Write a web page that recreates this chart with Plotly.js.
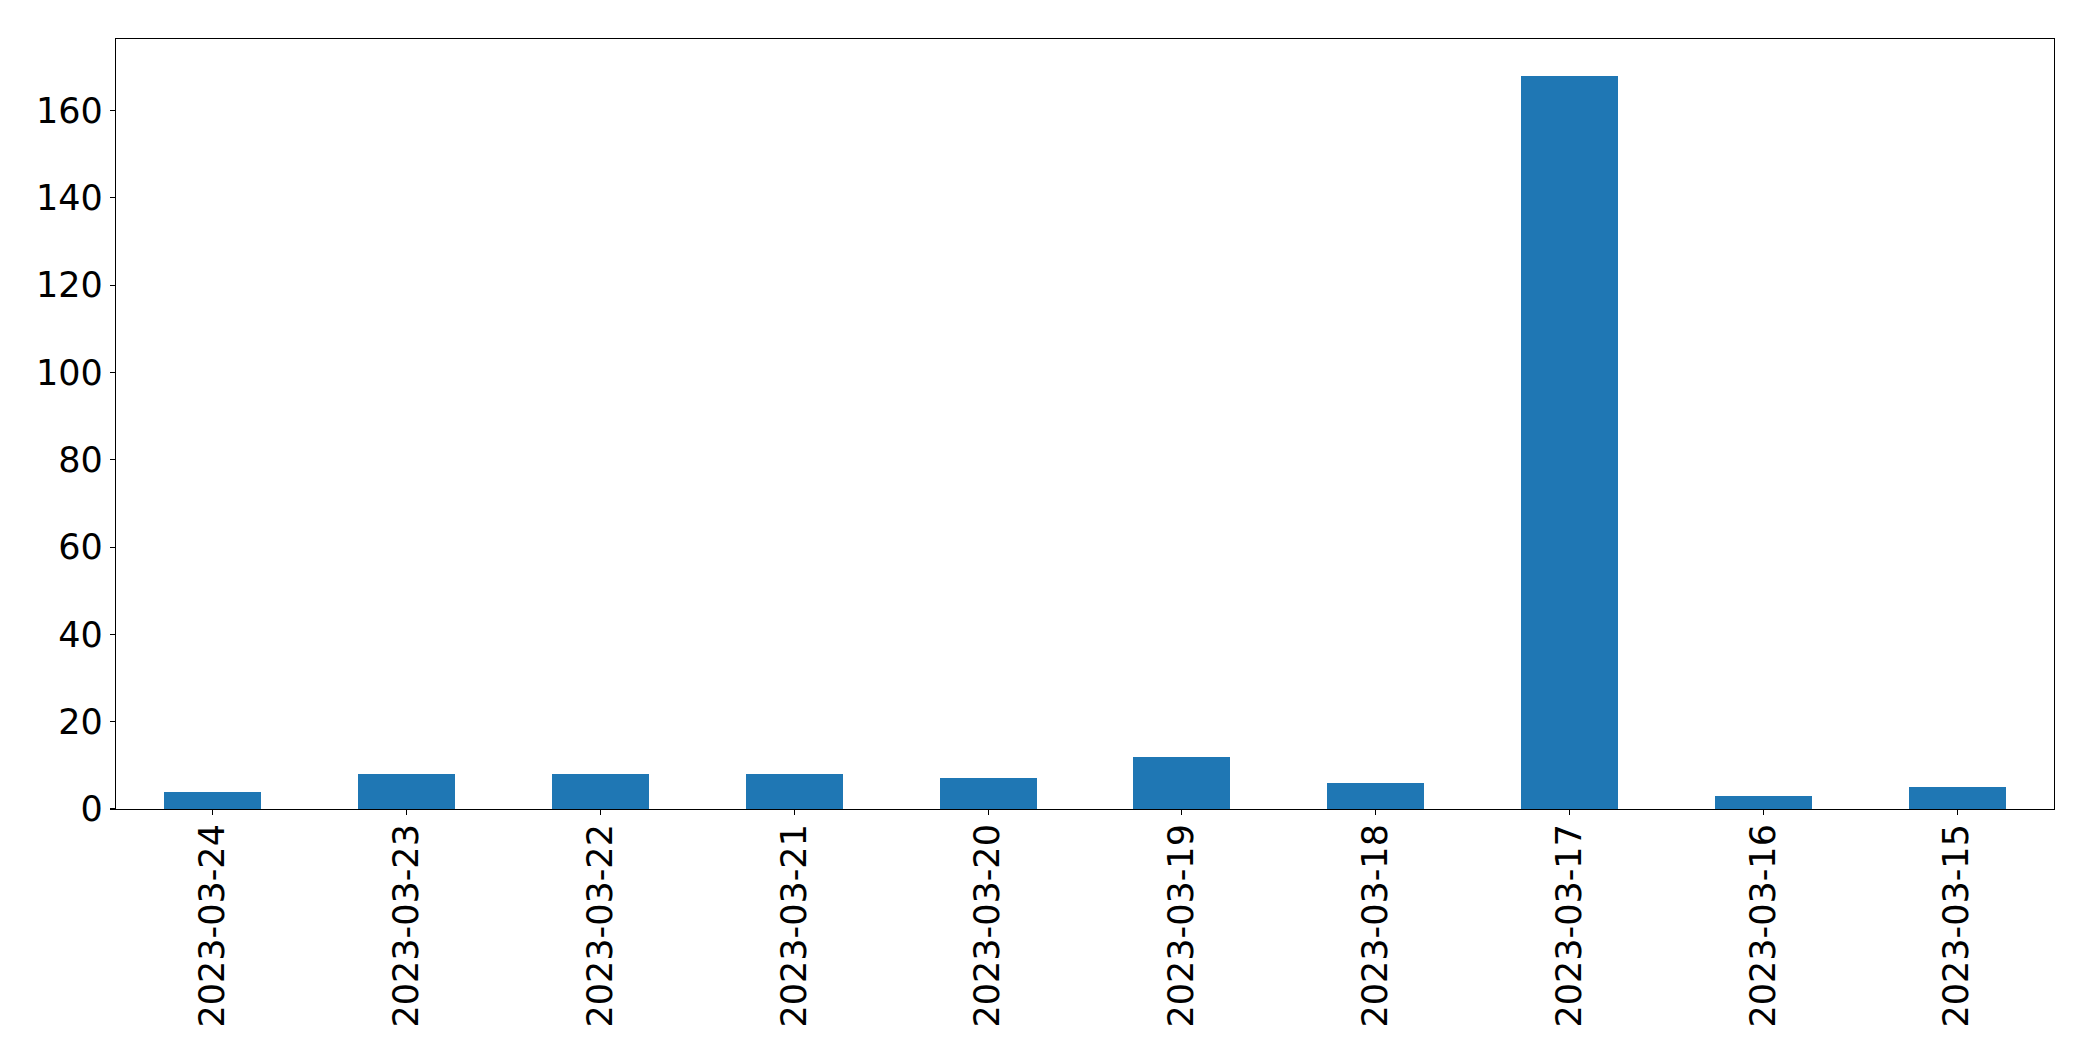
<!DOCTYPE html>
<html>
<head>
<meta charset="utf-8">
<script src="https://cdn.plot.ly/plotly-3.0.1.min.js"></script>
<style>html,body{margin:0;padding:0;background:#fff;}#chart{width:2093px;height:1061px;}</style>
</head>
<body>
<div id="chart"></div>
<script>
const dates = ["2023-03-24","2023-03-23","2023-03-22","2023-03-21","2023-03-20","2023-03-19","2023-03-18","2023-03-17","2023-03-16","2023-03-15"];
const counts = [4, 8, 8, 8, 7, 12, 6, 168, 3, 5];
const yTicks = [0, 20, 40, 60, 80, 100, 120, 140, 160];

const ymax = Math.max(...counts) * 1.05;

const trace = {
  type: 'bar',
  x: dates,
  y: counts,
  width: 0.5,
  marker: {color: '#1f77b4', line: {width: 0}},
  hoverinfo: 'x+y'
};

// invisible helper trace on an overlaid x axis that only draws the tick marks
const tickTrace = {
  type: 'scatter',
  mode: 'none',
  x: dates,
  y: counts,
  xaxis: 'x2',
  showlegend: false,
  hoverinfo: 'skip'
};

const axisFont = {family: 'DejaVu Sans, sans-serif', size: 35, color: '#000'};

const layout = {
  width: 2093,
  height: 1061,
  margin: {l: 116, r: 39, t: 39, b: 252, pad: 0},
  paper_bgcolor: '#fff',
  plot_bgcolor: '#fff',
  showlegend: false,
  bargap: 0,
  xaxis: {
    type: 'category',
    range: [-0.5, dates.length - 0.5],
    tickangle: -90,
    tickfont: axisFont,
    ticks: '',
    ticklen: 0,
    showline: true,
    linecolor: '#000',
    linewidth: 1.1,
    mirror: true,
    showgrid: false,
    zeroline: false,
    ticklabelstandoff: 0
  },
  xaxis2: {
    type: 'category',
    overlaying: 'x',
    matches: 'x',
    side: 'bottom',
    range: [-0.5, dates.length - 0.5],
    showticklabels: false,
    ticks: 'outside',
    ticklen: 5,
    tickwidth: 1.1,
    tickcolor: '#000',
    showline: false,
    showgrid: false,
    zeroline: false
  },
  yaxis: {
    range: [0, ymax],
    tickmode: 'array',
    tickvals: yTicks,
    ticktext: yTicks.map(String),
    tickfont: axisFont,
    ticks: 'outside',
    ticklen: 5,
    tickwidth: 1.1,
    tickcolor: '#000',
    showline: true,
    linecolor: '#000',
    linewidth: 1.1,
    mirror: true,
    showgrid: false,
    zeroline: false,
    ticklabelstandoff: 0
  }
};

Plotly.newPlot('chart', [trace, tickTrace], layout, {displayModeBar: false, staticPlot: true});
</script>
</body>
</html>
